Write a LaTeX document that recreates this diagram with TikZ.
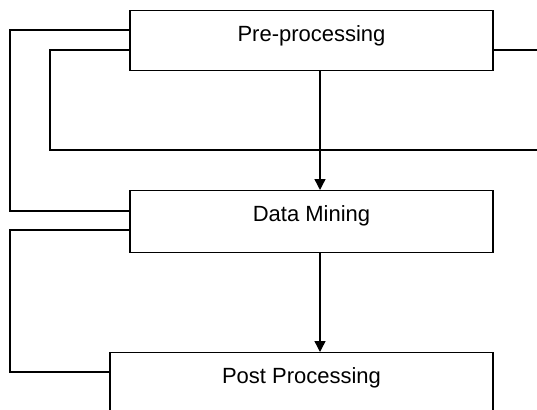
\documentclass[tikz,border=0pt]{standalone}
\usepackage{fontspec}
\setmainfont{Liberation Sans}
\usetikzlibrary{arrows.meta}

\begin{document}
\begin{tikzpicture}[x=1pt, y=-1pt, line width=1.4pt, >={Triangle[length=11pt, width=11pt]},
                    font=\fontsize{22}{26}\selectfont]
    \tikzstyle{stage}=[draw, rectangle, inner sep=0pt, anchor=north, text height=31pt]

    \clip (0,0) rectangle (537,409);

    \node[stage, minimum width=363pt, text depth=29pt] (pre)  at (311.5,10)  {Pre-processing};
    \node[stage, minimum width=363pt, text depth=31pt] (mine) at (311.5,190) {Data Mining};
    \node[stage, minimum width=383pt, text depth=40pt] (post) at (301.5,352) {Post Processing};

    \coordinate (loopend) at (537,150);
    \coordinate (outend)  at (537,50);

    \draw[->] (pre.south -| 320,0)  -- (mine.north -| 320,0);
    \draw[->] (mine.south -| 320,0) -- (post.north -| 320,0);

    \draw (pre.west |- 0,30)  -| (10,211) -- (mine.west |- 0,211);
    \draw (pre.west |- 0,50)  -| (50,150) -- (loopend);
    \draw (pre.east |- 0,50)  -- (outend);
    \draw (mine.west |- 0,230) -| (10,372) -- (post.west |- 0,372);
\end{tikzpicture}
\end{document}
